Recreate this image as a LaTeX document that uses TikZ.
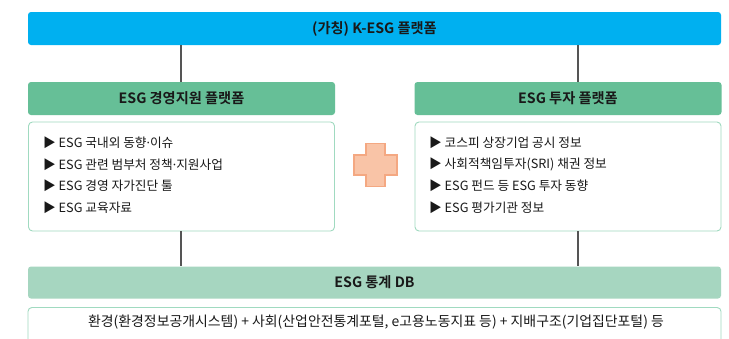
\documentclass[tikz,border=0pt]{standalone}
\usepackage{fontspec}
\usetikzlibrary{calc}
\setmainfont{Noto Sans CJK KR}
\newfontfamily\krbold{Noto Sans CJK KR Bold}
\newfontfamily\latinf{Noto Sans}
\newcommand\mdot{{\latinf ·}}
\definecolor{topblue}{RGB}{0,176,240}
\definecolor{hdrgreen}{RGB}{102,191,151}
\definecolor{dbgreen}{RGB}{166,214,192}
\definecolor{boxline}{RGB}{160,218,192}
\definecolor{plusfill}{RGB}{249,196,167}
\definecolor{plusline}{RGB}{244,168,130}
\definecolor{conn}{RGB}{85,85,85}
\definecolor{txt}{RGB}{25,25,25}
\tikzset{
  barbox/.style={rectangle, rounded corners=3pt, inner sep=0pt, text=txt, font=\fontsize{14.2}{16}\selectfont\krbold},
  listbox/.style={rectangle, rounded corners=4pt, draw=boxline, line width=0.9pt, fill=white, inner sep=0pt},
  item/.style={anchor=west, inner sep=0pt, text=txt, font=\fontsize{12.7}{14}\selectfont},
  link/.style={draw=conn, line width=1.2pt},
}
\begin{document}
\begin{tikzpicture}[x=1pt,y=-1pt]
\clip (0,0) rectangle (729,338);
\fill[white] (0,0) rectangle (729,338);
% top bar
\node[barbox, fill=topblue, minimum width=693pt, minimum height=33pt] (top) at (374.5,28.5) {(가칭) K-ESG 플랫폼};
% headers
\node[barbox, fill=hdrgreen, minimum width=307pt, minimum height=33pt] (lh) at (181.5,98.5) {ESG 경영지원 플랫폼};
\node[barbox, fill=hdrgreen, minimum width=307pt, minimum height=33pt] (rh) at (568,98.5) {ESG 투자 플랫폼};
% list boxes
\node[listbox, minimum width=306pt, minimum height=109pt] (lb) at (181.5,176.5) {};
\node[listbox, minimum width=306pt, minimum height=109pt] (rb) at (568,176.5) {};
% DB bar
\node[barbox, fill=dbgreen, minimum width=693pt, minimum height=32pt] (db) at (374.5,282.5) {ESG 통계 DB};
% bottom box
\node[listbox, minimum width=693pt, minimum height=44pt, anchor=north] (bot) at (374.5,307) {};
\node[item, anchor=center, font=\fontsize{13.9}{15}\selectfont] (bottxt) at (376,322) {환경(환경정보공개시스템) + 사회(산업안전통계포털, e고용노동지표 등) + 지배구조(기업집단포털) 등};
% list items left
\node[item] (l1) at (43,143) {▶ ESG 국내외 동향\mdot 이슈};
\node[item] (l2) at (43,164.5) {▶ ESG 관련 범부처 정책\mdot 지원사업};
\node[item] (l3) at (43,186) {▶ ESG 경영 자가진단 툴};
\node[item] (l4) at (43,208) {▶ ESG 교육자료};
% list items right
\node[item] (r1) at (429,143) {▶ 코스피 상장기업 공시 정보};
\node[item] (r2) at (429,164.5) {▶ 사회적책임투자(SRI) 채권 정보};
\node[item] (r3) at (429,186) {▶ ESG 펀드 등 ESG 투자 동향};
\node[item] (r4) at (429,208) {▶ ESG 평가기관 정보};
% plus sign
\coordinate (pc) at (375.5,165);
\path[fill=plusfill, draw=plusline, line width=1.6pt, line join=miter]
  ($(pc)+(-9.5,-21.5)$) -- ($(pc)+(9.5,-21.5)$) -- ($(pc)+(9.5,-10)$) -- ($(pc)+(21.5,-10)$)
  -- ($(pc)+(21.5,10)$) -- ($(pc)+(9.5,10)$) -- ($(pc)+(9.5,21.5)$) -- ($(pc)+(-9.5,21.5)$)
  -- ($(pc)+(-9.5,10)$) -- ($(pc)+(-21.5,10)$) -- ($(pc)+(-21.5,-10)$) -- ($(pc)+(-9.5,-10)$) -- cycle;
% connectors
\coordinate (lx) at (181,0);
\coordinate (rx) at (578,0);
\draw[link] (top.south -| lx) -- (lh.north -| lx);
\draw[link] (top.south -| rx) -- (rh.north -| rx);
\draw[link] (lb.south -| lx) -- (db.north -| lx);
\draw[link] (rb.south -| rx) -- (db.north -| rx);
\end{tikzpicture}
\end{document}
